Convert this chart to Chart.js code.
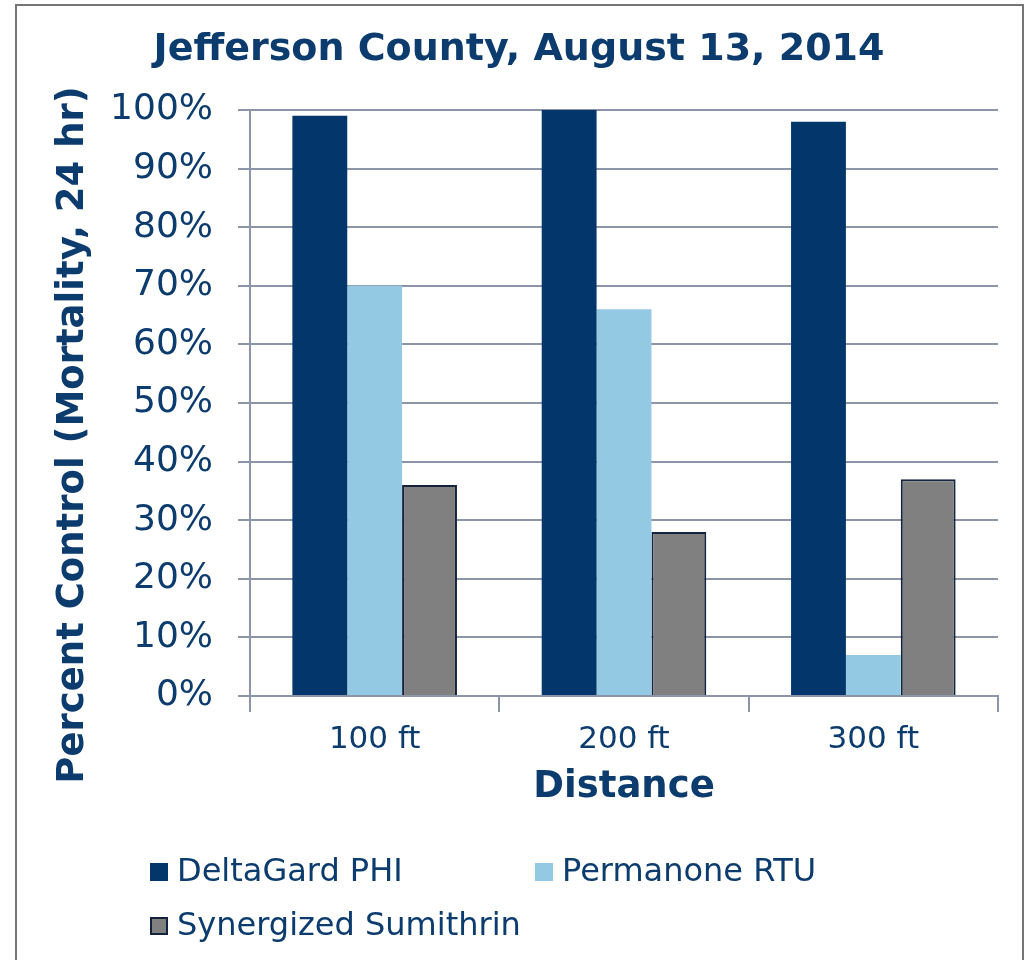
<!DOCTYPE html>
<html><head><meta charset="utf-8">
<script src="https://cdn.jsdelivr.net/npm/chart.js@4/dist/chart.umd.min.js"></script>
<style>
html,body{margin:0;padding:0;background:#fff;overflow:hidden}
#wrap{position:relative;width:1025px;height:960px}
#frame{position:absolute;left:15px;top:4px;width:1009px;height:1010px;box-sizing:border-box;border:2px solid #767676;pointer-events:none}
canvas{position:absolute;left:0;top:0}
</style></head><body>
<div id="wrap"><canvas id="c" width="1025" height="960"></canvas><div id="frame"></div></div>
<script>
const chartTitle = 'Jefferson County, August 13, 2014';
const xAxisTitle = 'Distance';
const yAxisTitle = 'Percent Control (Mortality, 24 hr)';
const categories = ['100 ft', '200 ft', '300 ft'];
const seriesNames = ['DeltaGard PHI', 'Permanone RTU', 'Synergized Sumithrin'];
const deltaGardPHI = [99, 100, 98];
const permanoneRTU = [70, 66, 7];
const synergizedSumithrin = [36, 28, 37];
const yTickValues = [0, 10, 20, 30, 40, 50, 60, 70, 80, 90, 100];

const FONT = '"DejaVu Sans", Verdana, sans-serif';
const TEXT = '#0c3b6e';
const GRID = '#8d95a8';

const yTitlePlugin = {
  id: 'yTitle',
  afterDraw(chart) {
    const ctx = chart.ctx;
    ctx.save();
    ctx.translate(73, 435);
    ctx.rotate(-Math.PI / 2);
    ctx.font = 'bold 37px ' + FONT;
    ctx.fillStyle = TEXT;
    ctx.textAlign = 'center';
    ctx.textBaseline = 'middle';
    ctx.fillText(yAxisTitle, 0, 0);
    ctx.restore();
  }
};

const gridLegend = {
  id: 'gridLegend',
  afterDraw(chart) {
    const ctx = chart.ctx;
    const pos = [[150, 872], [535, 872], [150, 926]];
    ctx.save();
    ctx.font = '32px ' + FONT;
    ctx.textBaseline = 'middle';
    ctx.textAlign = 'left';
    chart.data.datasets.forEach((ds, i) => {
      const [x, y] = pos[i];
      const s = 18;
      ctx.fillStyle = ds.backgroundColor;
      ctx.fillRect(x, y - s / 2, s, s);
      if (ds.borderWidth) {
        ctx.lineWidth = 2;
        ctx.strokeStyle = ds.borderColor;
        ctx.strokeRect(x + 1, y - s / 2 + 1, s - 2, s - 2);
      }
      ctx.fillStyle = TEXT;
      ctx.fillText(ds.label, x + 27, y + 1);
    });
    ctx.restore();
  }
};

new Chart(document.getElementById('c'), {
  type: 'bar',
  data: {
    labels: categories,
    datasets: [
      { label: seriesNames[0], data: deltaGardPHI, backgroundColor: '#03366a', borderWidth: 0 },
      { label: seriesNames[1], data: permanoneRTU, backgroundColor: '#93c9e3', borderWidth: 0 },
      { label: seriesNames[2], data: synergizedSumithrin, backgroundColor: '#808080', borderColor: '#13233b', borderWidth: 2 }
    ]
  },
  options: {
    responsive: false,
    animation: false,
    layout: { padding: { left: 40, right: 27, top: 0, bottom: 145 } },
    datasets: { bar: { categoryPercentage: 0.66, barPercentage: 1.0 } },
    plugins: {
      legend: { display: false },
      tooltip: { enabled: false },
      title: {
        display: true,
        text: chartTitle,
        color: TEXT,
        font: { family: FONT, size: 38, weight: 'bold' },
        padding: { top: 27, bottom: 37.4 }
      }
    },
    scales: {
      x: {
        afterFit(s) { s.height = 119; },
        grid: { display: true, drawOnChartArea: false, drawTicks: true, tickLength: 16, color: GRID, lineWidth: 2 },
        border: { display: true, color: GRID, width: 2 },
        ticks: { color: TEXT, font: { family: FONT, size: 31 }, padding: 9 },
        title: { display: true, text: xAxisTitle, color: TEXT, font: { family: FONT, size: 37, weight: 'bold' }, padding: { top: 0, bottom: 5 } }
      },
      y: {
        afterFit(s) { s.width = 210; },
        min: 0, max: 100,
        afterBuildTicks(s) { s.ticks = yTickValues.map(v => ({ value: v })); },
        grid: { color: GRID, lineWidth: 2, drawTicks: true, tickLength: 12 },
        border: { display: true, color: GRID, width: 2 },
        ticks: { color: TEXT, font: { family: FONT, size: 36 }, padding: 25, callback: v => v + '%' }
      }
    }
  },
  plugins: [yTitlePlugin, gridLegend]
});
</script>
</body></html>
